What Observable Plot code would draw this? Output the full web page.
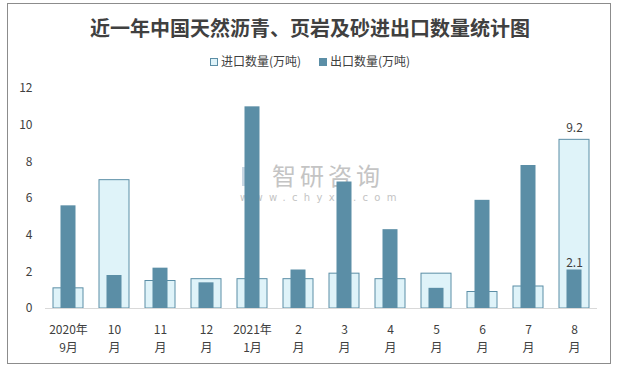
<!DOCTYPE html>
<html><head><meta charset="utf-8">
<script src="https://cdn.jsdelivr.net/npm/d3@7"></script>
<script src="https://cdn.jsdelivr.net/npm/@observablehq/plot@0.6"></script>
<style>
body{margin:0;background:#fff;font-family:"Noto Sans CJK SC","Noto Sans",sans-serif;}
#wrap{position:relative;width:620px;height:370px;overflow:hidden;}
#frame{position:absolute;left:7px;top:3px;width:604px;height:361px;border:1px solid #8c8c8c;box-sizing:border-box;}
#title{position:absolute;left:0;width:620px;top:13px;text-align:center;font-size:20px;font-weight:700;color:#404040;}
#legend{position:absolute;left:0;width:620px;top:52px;text-align:center;font-size:12px;color:#404040;}
#legend span.item{margin:0 9px;}
#legend i{display:inline-block;width:8px;height:8px;margin-right:3px;vertical-align:-0px;box-sizing:border-box;}
#wm{position:absolute;left:240px;top:162px;color:#c4c4c4;}
#wm .logo{position:absolute;left:2px;top:5px;width:17px;height:19px;background:#c9d7e3;}
#wm .cn{position:absolute;left:32px;top:1px;font-size:24px;letter-spacing:4px;white-space:nowrap;line-height:24px;}
#wm .en{position:absolute;left:0;top:31px;font-size:10px;letter-spacing:6.3px;white-space:nowrap;line-height:10px;font-family:"DejaVu Sans",sans-serif;}
#chart{position:absolute;left:0;top:78px;}
</style></head>
<body>
<div id="wrap">
  <div id="frame"></div>
  <div id="title">近一年中国天然沥青、页岩及砂进出口数量统计图</div>
  <div id="legend"><span class="item"><i style="background:#dff3f9;border:1px solid #5b8ea6"></i>进口数量(万吨)</span><span class="item"><i style="background:#5b8ea6"></i>出口数量(万吨)</span></div>
  <div id="wm"><div class="logo"></div><div class="cn">智研咨询</div><div class="en">www.chyxx.com</div></div>
  <div id="chart"></div>
</div>
<script>
const months = ["2020年9月","10月","11月","12月","2021年1月","2月","3月","4月","5月","6月","7月","8月"];
const tickLabels = ["2020年\n9月","10\n月","11\n月","12\n月","2021年\n1月","2\n月","3\n月","4\n月","5\n月","6\n月","7\n月","8\n月"];
const importVals = [1.1, 7.0, 1.5, 1.6, 1.6, 1.6, 1.9, 1.6, 1.9, 0.9, 1.2, 9.2];
const exportVals = [5.6, 1.8, 2.2, 1.4, 11.0, 2.1, 6.9, 4.3, 1.1, 5.9, 7.8, 2.1];
const yTicks = [0, 2, 4, 6, 8, 10, 12];

const imp = months.map((m, i) => ({month: m, value: importVals[i], label: tickLabels[i]}));
const exp = months.map((m, i) => ({month: m, value: exportVals[i]}));
const lastImp = imp.slice(-1);
const lastExp = exp.slice(-1);

const plot = Plot.plot({
  width: 620,
  height: 290,
  marginLeft: 45,
  marginRight: 23,
  marginTop: 10,
  marginBottom: 60,
  style: {fontFamily: '"Noto Sans CJK SC","Noto Sans",sans-serif', fontSize: "12px", color: "#404040", background: "transparent"},
  x: {domain: months, padding: 0},
  y: {domain: [0, 12]},
  marks: [
    Plot.axisY({ticks: yTicks, tickSize: 0, tickPadding: 13, label: null, fontSize: 12, fill: "#404040"}),
    Plot.axisX({tickSize: 0, tickPadding: 12, label: null, tickFormat: (d) => tickLabels[months.indexOf(d)], lineHeight: 1.55, fontSize: 12, fill: "#404040"}),
    Plot.barY(imp, {x: "month", y: "value", fill: "#dff3f9", stroke: "#5b8ea6", strokeWidth: 1, insetLeft: 8, insetRight: 8}),
    Plot.barY(exp, {x: "month", y: "value", fill: "#5b8ea6", insetLeft: 15.5, insetRight: 15.5}),
    Plot.ruleY([0], {stroke: "#d9d9d9", strokeWidth: 1.2}),
    Plot.text(lastImp, {x: "month", y: "value", text: d => d.value.toFixed(1), dy: -12, fill: "#404040", fontSize: 12}),
    Plot.text(lastExp, {x: "month", y: "value", text: d => d.value.toFixed(1), dy: -7, fill: "#404040", fontSize: 12})
  ]
});
document.getElementById("chart").appendChild(plot);
</script>
</body></html>
